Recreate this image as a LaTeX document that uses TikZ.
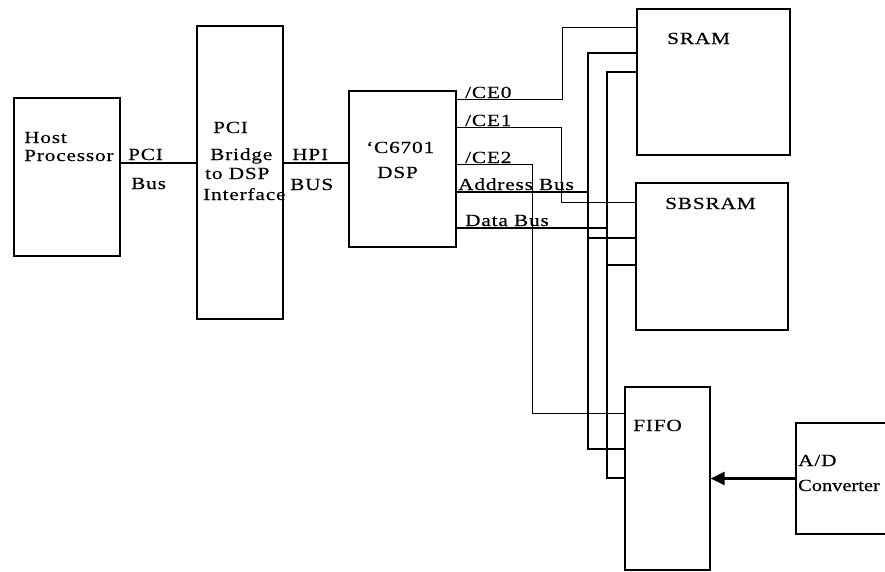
\documentclass[tikz,border=0pt]{standalone}
\usepackage{fontspec}
\setmainfont{Liberation Serif}[FakeStretch=1.25, LetterSpace=5, FakeBold=0.4]
\newfontfamily\tightfont{Liberation Serif}[FakeStretch=1.2, FakeBold=0.4]
\usetikzlibrary{arrows.meta, positioning, calc}
\tikzset{
  box/.style={rectangle, draw=black, line width=1.2pt, inner sep=0pt},
  lbl/.style={anchor=base west, inner sep=0pt, font=\fontsize{17}{20}\selectfont},
  sig/.style={line width=1pt, color=black},
  bus/.style={line width=2.4pt, color=black},
  arrow/.style={-{Triangle[length=14pt, width=13pt]}, line width=2.4pt},
}

\begin{document}
\begin{tikzpicture}[x=1pt, y=-1pt]
  \useasboundingbox (0,0) rectangle (885,571);

  % Blocks
  \node[box, minimum width=106pt, minimum height=158pt] (host) at (67,177) {};
  \node[box, minimum width=86pt, minimum height=293pt] (bridge) at (240,172.5) {};
  \node[box, minimum width=107pt, minimum height=156pt] (dsp) at (402.5,169) {};
  \node[box, minimum width=153pt, minimum height=146pt] (sram) at (713.5,82) {};
  \node[box, minimum width=152pt, minimum height=147pt] (sbsram) at (712,256.5) {};
  \node[box, minimum width=85pt, minimum height=183pt] (fifo) at (667.5,478.5) {};
  \node[box, minimum width=100pt, minimum height=111pt] (adc) at (846,478.5) {};

  % Block texts
  \node[lbl] (hostA) at (24,143) {Host};
  \node[lbl] (hostB) at (24,161) {Processor};
  \foreach \x/\y/\txt [count=\i] in {213/133/PCI, 210/160/Bridge, 205/179/to DSP, 203/200/Interface}{
    \node[lbl] (brtext\i) at (\x,\y) {\txt};
  }
  \node[lbl] (dspA) at (366,153) {`C6701};
  \node[lbl] (dspB) at (377,178) {DSP};
  \node[lbl] (sramtext) at (667,44) {SRAM};
  \node[lbl] (sbsramtext) at (665,209) {SBSRAM};
  \node[lbl] (fifotext) at (633,431) {FIFO};
  \node[lbl] (adcA) at (798,466) {A/D};
  \node[lbl, font=\fontsize{17}{20}\tightfont] (adcB) at (798,491) {Converter};

  % Host side buses
  \draw[bus] (host.east |- 0,163) -- (bridge.west |- 0,163);
  \node[lbl] (pcibus) at (128,160) {PCI};
  \node[lbl] (pcibusB) at (131,189) {Bus};
  \draw[bus] (bridge.east |- 0,163) -- (dsp.west |- 0,163);
  \node[lbl] (hpibus) at (292,160) {HPI};
  \node[lbl] (hpibusB) at (290,190) {BUS};

  % Chip enables
  \draw[sig] (dsp.east |- 0,99) -- ++(106,0) |- (sram.west |- 0,27);
  \draw[sig] (dsp.east |- 0,127) -- ++(105,0) |- (sbsram.west |- 0,202);
  \draw[sig] (dsp.east |- 0,164) -- ++(76,0) |- (fifo.west |- 0,413);
  \node[lbl] (ce0) at (465,98) {/CE0};
  \node[lbl] (ce1) at (465,126) {/CE1};
  \node[lbl] (ce2) at (465,163) {/CE2};

  % Address bus
  \coordinate (abus) at (588,0);
  \draw[bus] (dsp.east |- 0,192) -- (abus |- 0,192);
  \draw[bus] (sram.west |- 0,53) -| (abus |- 0,449) -- (fifo.west |- 0,449);
  \draw[bus] (abus |- 0,238) -- (sbsram.west |- 0,238);
  \node[lbl] (addr) at (458,190) {Address Bus};

  % Data bus
  \coordinate (dbus) at (607,0);
  \draw[bus] (dsp.east |- 0,228) -- (dbus |- 0,228);
  \draw[bus] (sram.west |- 0,72) -| (dbus |- 0,478) -- (fifo.west |- 0,478);
  \draw[bus] (dbus |- 0,265) -- (sbsram.west |- 0,265);
  \node[lbl] (data) at (465,226) {Data Bus};

  % Converter output
  \draw[arrow] (adc.west) -- (fifo.east);
\end{tikzpicture}
\end{document}
